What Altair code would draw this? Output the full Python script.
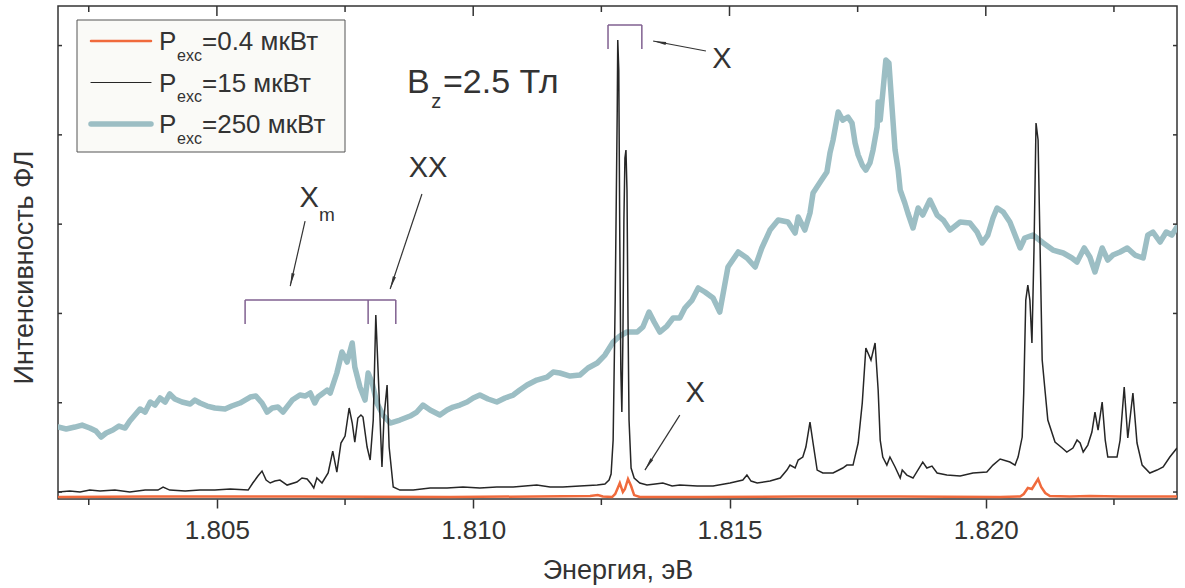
import altair as alt
import pandas as pd

# ---------------- data (energy in eV, PL intensity in arb. units) ----------------
energy_teal = [
    1.80190, 1.80206, 1.80223, 1.80237, 1.80252, 1.80264, 1.80274, 1.80284, 1.80297, 1.80309,
    1.80321, 1.80330, 1.80340, 1.80350, 1.80360, 1.80370, 1.80379, 1.80389, 1.80399, 1.80408,
    1.80418, 1.80432, 1.80448, 1.80457, 1.80467, 1.80481, 1.80496, 1.80516, 1.80529, 1.80545,
    1.80565, 1.80576, 1.80588, 1.80598, 1.80608, 1.80619, 1.80629, 1.80647, 1.80662, 1.80672,
    1.80682, 1.80691, 1.80697, 1.80705, 1.80715, 1.80721, 1.80734, 1.80744, 1.80754, 1.80764,
    1.80769, 1.80779, 1.80789, 1.80795, 1.80803, 1.80812, 1.80824, 1.80838, 1.80857, 1.80877,
    1.80890, 1.80902, 1.80916, 1.80935, 1.80949, 1.80961, 1.80974, 1.80988, 1.81000, 1.81013,
    1.81029, 1.81046, 1.81062, 1.81078, 1.81091, 1.81105, 1.81124, 1.81144, 1.81156, 1.81169,
    1.81189, 1.81208, 1.81224, 1.81242, 1.81257, 1.81273, 1.81286, 1.81300, 1.81320, 1.81331,
    1.81343, 1.81353, 1.81364, 1.81378, 1.81390, 1.81403, 1.81413, 1.81427, 1.81439, 1.81452,
    1.81468, 1.81481, 1.81497, 1.81517, 1.81534, 1.81550, 1.81563, 1.81579, 1.81595, 1.81614,
    1.81628, 1.81634, 1.81647, 1.81657, 1.81663, 1.81677, 1.81690, 1.81696, 1.81702, 1.81712,
    1.81721, 1.81731, 1.81739, 1.81745, 1.81751, 1.81759, 1.81766, 1.81774, 1.81780, 1.81788,
    1.81790, 1.81794, 1.81799, 1.81805, 1.81811, 1.81817, 1.81823, 1.81829, 1.81833, 1.81842,
    1.81848, 1.81858, 1.81868, 1.81877, 1.81891, 1.81905, 1.81917, 1.81930, 1.81950, 1.81969,
    1.81983, 1.81993, 1.82004, 1.82014, 1.82022, 1.82034, 1.82047, 1.82067, 1.82076, 1.82092,
    1.82112, 1.82131, 1.82151, 1.82168, 1.82178, 1.82192, 1.82203, 1.82213, 1.82227, 1.82238,
    1.82248, 1.82262, 1.82276, 1.82291, 1.82307, 1.82316, 1.82326, 1.82340, 1.82352, 1.82363, 1.82373,
]
int_teal = [
    728, 706, 728, 750, 717, 683, 616, 661, 694, 739,
    717, 795, 862, 930, 896, 1008, 974, 1053, 1008, 1098,
    1042, 1008, 986, 1030, 997, 963, 941, 930, 963, 997,
    1064, 1075, 997, 896, 941, 952, 896, 1030, 1086, 1075,
    1109, 997, 1064, 1098, 1142, 1109, 1333, 1568, 1456, 1669,
    1400, 1176, 1030, 1333, 1221, 997, 862, 773, 806, 851,
    896, 974, 918, 862, 918, 952, 974, 1008, 1053, 1086,
    1042, 1008, 1053, 1086, 1142, 1198, 1254, 1288, 1344, 1333,
    1299, 1310, 1389, 1445, 1534, 1680, 1747, 1792, 1792, 1848,
    2016, 1904, 1792, 1859, 1949, 1949, 2061, 2150, 2285, 2240,
    2173, 2016, 2520, 2688, 2621, 2520, 2733, 2934, 3046, 3024,
    2901, 3080, 2934, 3125, 3349, 3472, 3584, 3797, 3942, 4256,
    4166, 4200, 4133, 3909, 3774, 3662, 3606, 3685, 3830, 4088,
    4368, 4166, 4469, 4838, 4805, 4312, 3830, 3606, 3382, 3237,
    3125, 2957, 3181, 3102, 3270, 3102, 3046, 2934, 3024, 3013,
    2912, 2789, 2878, 3069, 3181, 3136, 3024, 2733, 2845, 2878,
    2789, 2710, 2677, 2621, 2576, 2733, 2632, 2464, 2733, 2598,
    2654, 2688, 2733, 2654, 2621, 2878, 2912, 2800, 2912, 2878, 2968,
]

energy_black = [
    1.80190, 1.80213, 1.80233, 1.80252, 1.80272, 1.80301, 1.80330, 1.80360, 1.80385, 1.80395,
    1.80408, 1.80438, 1.80467, 1.80496, 1.80526, 1.80561, 1.80570, 1.80580, 1.80588, 1.80596,
    1.80604, 1.80613, 1.80623, 1.80637, 1.80656, 1.80666, 1.80676, 1.80684, 1.80689, 1.80695,
    1.80705, 1.80717, 1.80726, 1.80734, 1.80742, 1.80750, 1.80758, 1.80764, 1.80769, 1.80775,
    1.80781, 1.80785, 1.80793, 1.80799, 1.80805, 1.80810, 1.80816, 1.80822, 1.80826, 1.80832,
    1.80836, 1.80844, 1.80857, 1.80883, 1.80916, 1.80949, 1.80980, 1.81013, 1.81046, 1.81078,
    1.81124, 1.81150, 1.81175, 1.81208, 1.81242, 1.81257, 1.81265, 1.81269, 1.81273, 1.81277,
    1.81281, 1.81282, 1.81284, 1.81286, 1.81288, 1.81290, 1.81292, 1.81294, 1.81296, 1.81298,
    1.81300, 1.81302, 1.81304, 1.81308, 1.81314, 1.81325, 1.81339, 1.81355, 1.81370, 1.81388,
    1.81403, 1.81437, 1.81468, 1.81501, 1.81526, 1.81534, 1.81542, 1.81554, 1.81579, 1.81599,
    1.81612, 1.81618, 1.81628, 1.81634, 1.81643, 1.81649, 1.81657, 1.81663, 1.81671, 1.81682,
    1.81702, 1.81721, 1.81729, 1.81741, 1.81751, 1.81759, 1.81766, 1.81776, 1.81784, 1.81790,
    1.81794, 1.81799, 1.81807, 1.81813, 1.81823, 1.81833, 1.81837, 1.81846, 1.81858, 1.81877,
    1.81885, 1.81895, 1.81905, 1.81924, 1.81950, 1.81975, 1.82002, 1.82014, 1.82028, 1.82047,
    1.82057, 1.82063, 1.82071, 1.82074, 1.82078, 1.82082, 1.82086, 1.82090, 1.82094, 1.82098,
    1.82102, 1.82106, 1.82110, 1.82116, 1.82121, 1.82135, 1.82149, 1.82158, 1.82170, 1.82178,
    1.82184, 1.82190, 1.82199, 1.82207, 1.82213, 1.82219, 1.82227, 1.82233, 1.82238, 1.82256,
    1.82262, 1.82270, 1.82277, 1.82287, 1.82295, 1.82305, 1.82320, 1.82334, 1.82346, 1.82359, 1.82373,
]
int_black = [
    0, 11, 0, 22, 11, 22, 0, 22, 22, 56,
    22, 11, 22, 22, 34, 22, 101, 179, 235, 134,
    101, 123, 134, 78, 112, 157, 146, 90, 45, 157,
    101, 213, 459, 224, 549, 627, 941, 773, 560, 829,
    862, 840, 504, 358, 806, 1982, 1142, 280, 840, 1198,
    504, 56, 22, 22, 45, 45, 56, 45, 56, 56,
    78, 56, 56, 67, 78, 90, 134, 202, 582, 2150,
    4278, 5062, 4726, 2822, 1366, 896, 1702, 3046, 3741, 3830,
    3382, 1926, 806, 269, 157, 101, 78, 90, 101, 67,
    78, 67, 67, 101, 134, 190, 123, 101, 123, 157,
    246, 302, 269, 358, 392, 504, 784, 549, 246, 213,
    213, 269, 302, 302, 549, 997, 1613, 1478, 1669, 1142,
    582, 392, 302, 392, 280, 157, 246, 190, 157, 336,
    269, 291, 213, 190, 179, 213, 224, 302, 370, 336,
    302, 392, 616, 1109, 2150, 2318, 2150, 1669, 2710, 4133,
    3942, 2710, 1478, 1109, 806, 560, 493, 448, 493, 582,
    549, 448, 526, 672, 896, 694, 1008, 582, 392, 392,
    582, 1176, 605, 1109, 549, 302, 213, 246, 280, 392, 493,
]

energy_orange = [
    1.80190, 1.80370, 1.80662, 1.80955, 1.81228, 1.81243, 1.81253, 1.81271, 1.81277, 1.81282,
    1.81286, 1.81292, 1.81296, 1.81302, 1.81308, 1.81314, 1.81325, 1.81442, 1.81638, 1.81833,
    1.82028, 1.82067, 1.82074, 1.82082, 1.82090, 1.82096, 1.82102, 1.82108, 1.82116, 1.82125,
    1.82164, 1.82203, 1.82262, 1.82373,
]
int_orange = [
    -56, -50, -50, -56, -45, -34, -50, -56, -22, 45,
    101, 0, 34, 146, 67, -34, -56, -56, -50, -50,
    -56, -50, -22, 45, 34, 90, 146, 56, -11, -45,
    -50, -45, -50, -50,
]

series_labels = ["=0.4 мкВт", "=15 мкВт", "=250 мкВт"]
x_major = [1.805, 1.810, 1.815, 1.820]
x_minor = [1.8025, 1.8075, 1.8125, 1.8175, 1.8225]
y_ticks = [0, 1000, 2000, 3000, 4000, 5000]

# annotation geometry in data units
bracket_e1 = [1.81263, 1.81263, 1.81329, 1.80555, 1.80555, 1.80795, 1.80849]
bracket_i1 = [5230, 5230, 5230, 2150, 2150, 2150, 2150]
bracket_e2 = [1.81329, 1.81263, 1.81329, 1.80849, 1.80555, 1.80795, 1.80849]
bracket_i2 = [5230, 4962, 4962, 2150, 1882, 1882, 1882]

arrow_e1 = [1.81454, 1.80672, 1.80900, 1.81403]
arrow_i1 = [4939, 3035, 3338, 862]
arrow_e2 = [1.81351, 1.80643, 1.80838, 1.81335]
arrow_i2 = [5051, 2307, 2274, 246]
arrow_angle = [281, 193, 199, 212]

# ---------------- styling ----------------
FONT = "Liberation Sans"
TXT = "#333333"
TEAL = "#9CBEC4"
ORANGE = "#F06A3C"
BLACK = "#262626"
PURPLE = "#806090"
W, H = 1119, 493

xs = alt.Scale(domain=[1.8019, 1.82373], nice=False, zero=False)
ys = alt.Scale(domain=[-78, 5443], nice=False, zero=False)

x_axis = alt.Axis(
    values=x_major, format=".3f", grid=False, domain=False,
    tickSize=9, tickWidth=1.5, tickColor=TXT,
    labelFont=FONT, labelFontSize=26, labelColor=TXT, labelPadding=30,
    labelBaseline="alphabetic", labelFlush=False,
    title="Энергия, эВ", titleFont=FONT, titleFontSize=27, titleColor=TXT,
    titleFontWeight="normal", titleBaseline="alphabetic", titleX=W / 2, titleY=79,
)
y_axis = alt.Axis(
    labels=False, ticks=False, domain=False, grid=False,
    title="Интенсивность ФЛ", titleFont=FONT, titleFontSize=27, titleColor=TXT,
    titleFontWeight="normal", titleBaseline="alphabetic", titleAngle=270,
    titleX=-26, titleY=261, titleAlign="center",
)


def X(field="E"):
    return alt.X(f"{field}:Q", scale=xs, axis=x_axis)


def Y(field="I"):
    return alt.Y(f"{field}:Q", scale=ys, axis=y_axis)


df_teal = pd.DataFrame({"E": energy_teal, "I": int_teal})
df_black = pd.DataFrame({"E": energy_black, "I": int_black})
df_orange = pd.DataFrame({"E": energy_orange, "I": int_orange})

layers = []

teal = alt.Chart(df_teal).mark_line(
    color=TEAL, strokeWidth=5.5, strokeJoin="round", strokeCap="round", clip=True
).encode(x=X(), y=Y())
black = alt.Chart(df_black).mark_line(color=BLACK, strokeWidth=1.5, clip=True).encode(x=X(), y=Y())
orange = alt.Chart(df_orange).mark_line(color=ORANGE, strokeWidth=2.5, clip=True).encode(x=X(), y=Y())
layers += [teal, black, orange]

# frame ticks
df_major = pd.DataFrame({"E": x_major})
df_minor = pd.DataFrame({"E": x_minor})
df_yt = pd.DataFrame({"I": y_ticks})
layers.append(alt.Chart(df_major).mark_rule(color=TXT, strokeWidth=1.5).encode(
    x=X(), y=alt.value(0), y2=alt.value(10)))
layers.append(alt.Chart(df_minor).mark_rule(color=TXT, strokeWidth=1.5).encode(
    x=X(), y=alt.value(0), y2=alt.value(6)))
layers.append(alt.Chart(df_minor).mark_rule(color=TXT, strokeWidth=1.5).encode(
    x=X(), y=alt.value(H), y2=alt.value(H + 6)))
layers.append(alt.Chart(df_yt).mark_rule(color=TXT, strokeWidth=1.5).encode(
    y=Y(), x=alt.value(0), x2=alt.value(4)))
layers.append(alt.Chart(df_yt).mark_rule(color=TXT, strokeWidth=1.5).encode(
    y=Y(), x=alt.value(W - 4), x2=alt.value(W)))

# brackets
df_br = pd.DataFrame({"E1": bracket_e1, "I1": bracket_i1, "E2": bracket_e2, "I2": bracket_i2})
layers.append(alt.Chart(df_br).mark_rule(color=PURPLE, strokeWidth=1.5).encode(
    x=X("E1"), y=Y("I1"), x2="E2:Q", y2="I2:Q"))

# arrows
df_ar = pd.DataFrame({"E1": arrow_e1, "I1": arrow_i1, "E2": arrow_e2, "I2": arrow_i2})
layers.append(alt.Chart(df_ar).mark_rule(color=TXT, strokeWidth=1.2).encode(
    x=X("E1"), y=Y("I1"), x2="E2:Q", y2="I2:Q"))
HEAD = "M0,0L0.25,2L-0.25,2Z"
for e, i, a in zip(arrow_e2, arrow_i2, arrow_angle):
    layers.append(alt.Chart(pd.DataFrame({"E": [e], "I": [i]})).mark_point(
        shape=HEAD, filled=True, size=169, angle=a, color=TXT, opacity=1, strokeWidth=0
    ).encode(x=X(), y=Y()))


def label(text, e, i, size, align="center"):
    return alt.Chart(pd.DataFrame({"E": [e], "I": [i]})).mark_text(
        text=text, font=FONT, fontSize=size, color=TXT, align=align, baseline="alphabetic"
    ).encode(x=X(), y=Y())


layers += [
    label("X", 1.81485, 4749, 29),
    label("X", 1.80680, 3192, 29),
    label("m", 1.80699, 3035, 19, "left"),
    label("XX", 1.80912, 3528, 29),
    label("X", 1.81433, 1008, 29),
    label("B", 1.80871, 4469, 34, "left"),
    label("z", 1.80918, 4301, 20, "left"),
    label("=2.5 Тл", 1.80941, 4469, 34, "left"),
]

# legend box
one = pd.DataFrame({"a": [0]})
layers.append(alt.Chart(one).mark_rect(fill="#FAFAF7", stroke="#555555", strokeWidth=1).encode(
    x=alt.value(19), x2=alt.value(287), y=alt.value(14), y2=alt.value(146)))
series_colors = [ORANGE, BLACK, TEAL]
series_widths = [2.5, 1.2, 5.5]
row_y = [35, 76.5, 118]
for lab, col, sw, ry in zip(series_labels, series_colors, series_widths, row_y):
    layers.append(alt.Chart(one).mark_rule(color=col, strokeWidth=sw, strokeCap="round").encode(
        x=alt.value(33), x2=alt.value(93), y=alt.value(ry)))
    layers.append(alt.Chart(one).mark_text(text="P", font=FONT, fontSize=26, color=TXT,
                                           align="left", baseline="alphabetic").encode(
        x=alt.value(101), y=alt.value(ry + 9)))
    layers.append(alt.Chart(one).mark_text(text="exc", font=FONT, fontSize=16, color=TXT,
                                           align="left", baseline="alphabetic").encode(
        x=alt.value(119), y=alt.value(ry + 19.5)))
    layers.append(alt.Chart(one).mark_text(text=lab, font=FONT, fontSize=26, color=TXT,
                                           align="left", baseline="alphabetic").encode(
        x=alt.value(144), y=alt.value(ry + 9)))

chart = alt.layer(*layers).properties(
    width=W, height=H,
    padding={"left": 58, "top": 6, "right": 8, "bottom": 89},
    autosize=alt.AutoSizeParams(type="none"),
    background="white",
).configure_view(stroke=TXT, strokeWidth=1.5)

chart.save("out.html", embed_options={"renderer": "svg", "actions": False})
